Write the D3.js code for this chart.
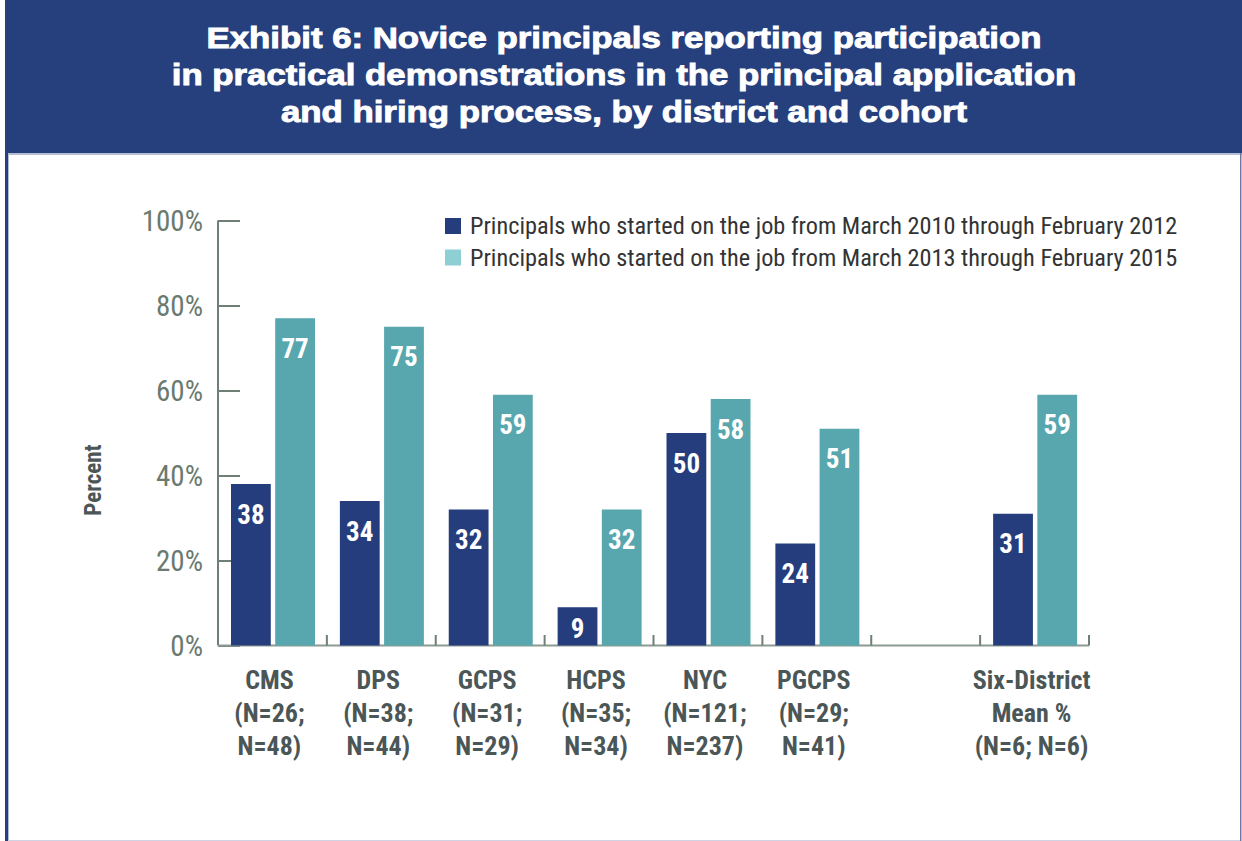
<!DOCTYPE html>
<html><head><meta charset="utf-8">
<script src="https://cdn.jsdelivr.net/npm/d3@7"></script>
<style>html,body{margin:0;padding:0;background:#fff;}svg{display:block;}</style>
</head><body>
<svg id="chart" width="1242" height="841"></svg>
<script>
const titleLines = ["Exhibit 6: Novice principals reporting participation","in practical demonstrations in the principal application","and hiring process, by district and cohort"];
const categories = ["CMS","DPS","GCPS","HCPS","NYC","PGCPS","blank","Six-District"];
const categoryLabels = [["CMS","(N=26;","N=48)"],["DPS","(N=38;","N=44)"],["GCPS","(N=31;","N=29)"],["HCPS","(N=35;","N=34)"],["NYC","(N=121;","N=237)"],["PGCPS","(N=29;","N=41)"],[],["Six-District","Mean %","(N=6; N=6)"]];
const seriesNames = ["Principals who started on the job from March 2010 through February 2012","Principals who started on the job from March 2013 through February 2015"];
const cohort2010 = [38,34,32,9,50,24,null,31];
const cohort2013 = [77,75,59,32,58,51,null,59];
const yTicks = [0,20,40,60,80,100];

const navy="#253d7c", teal="#58a7ae", tealLegend="#8ecfd3", axisCol="#6e8075", labelCol="#4b5657";
const narrow = "'Liberation Sans Narrow','Arial Narrow','Roboto Condensed',sans-serif";
const svg = d3.select("#chart");

// frame
svg.append("rect").attr("x",5).attr("y",0).attr("width",1237).attr("height",153).attr("fill","#263f7d");
svg.append("rect").attr("x",5).attr("y",153).attr("width",1237).attr("height",2).attr("fill","#b5bdd3");
svg.append("rect").attr("x",5).attr("y",153).attr("width",3).attr("height",688).attr("fill","#263f7d");
svg.append("rect").attr("x",8).attr("y",155).attr("width",1).attr("height",686).attr("fill","#b5bdd3");
svg.append("rect").attr("x",1240).attr("y",153).attr("width",1.5).attr("height",688).attr("fill","#6d78a3");
svg.append("rect").attr("x",8).attr("y",840).attr("width",1232).attr("height",1).attr("fill","#cfd3e3");

// title
svg.append("g").attr("transform","translate(624,0) scale(1.2,1)")
  .selectAll("text").data(titleLines).join("text")
  .attr("x",0).attr("y",(d,i)=>48+i*37)
  .attr("text-anchor","middle").attr("fill","#fff")
  .attr("stroke","#fff").attr("stroke-width",0.9)
  .attr("font-family","'Liberation Sans',Arial,sans-serif").attr("font-weight","bold")
  .attr("font-size",29).text(d=>d);

// scales
const y = d3.scaleLinear().domain([0,100]).range([645.5,220.5]);
const x = d3.scaleBand().domain(categories).range([218,1089]).paddingInner(0).paddingOuter(0);
const xs = d3.scaleBand().domain([0,1]).range([13,97]).paddingInner(0.1);

// y axis
const yAxis = d3.axisRight(y).tickValues(yTicks).tickSize(22).tickFormat(d=>d+"%");
const gy = svg.append("g").attr("transform","translate(218,0)").call(yAxis);
gy.select(".domain").attr("stroke",axisCol).attr("stroke-width",2).attr("d","M0,220.5V645.5");
gy.selectAll(".tick line").attr("stroke",axisCol).attr("stroke-width",2);
gy.selectAll(".tick text").attr("x",-15).attr("text-anchor","end").attr("dy","0.35em")
  .attr("fill","#6a7a6f").attr("font-family",narrow).attr("font-size",29).attr("font-weight","normal");

// x axis baseline & ticks
const gx = svg.append("g");
gx.append("line").attr("x1",218).attr("x2",1089).attr("y1",645.5).attr("y2",645.5).attr("stroke","#8d9a92").attr("stroke-width",2);
const bounds = categories.slice(1).map(c=>x(c)).concat([1089]);
gx.selectAll("line.t").data(bounds).join("line").attr("class","t")
  .attr("x1",d=>d).attr("x2",d=>d).attr("y1",645.5).attr("y2",635).attr("stroke",axisCol).attr("stroke-width",2);

// bars
const rows = categories.map((c,i)=>({c, vals:[cohort2010[i],cohort2013[i]]}));
const colors=[navy,teal];
const gb = svg.append("g");
rows.forEach(r=>{
  r.vals.forEach((v,j)=>{
    if(v==null) return;
    const bx = x(r.c)+xs(j), bw = xs.bandwidth();
    gb.append("rect").attr("x",bx).attr("y",y(v)).attr("width",bw).attr("height",y(0)-y(v)).attr("fill",colors[j]);
    const cy = Math.min(y(v)+30, (y(v)+y(0))/2+2);
    gb.append("text").attr("x",bx+bw/2).attr("y",cy).attr("dy","0.36em").attr("text-anchor","middle")
      .attr("fill","#fff").attr("font-family",narrow).attr("font-weight","bold").attr("font-size",27).text(v);
  });
});

// category labels
const gl = svg.append("g");
categories.forEach((c,i)=>{
  categoryLabels[i].forEach((t,k)=>{
    gl.append("text").attr("x",x(c)+x.bandwidth()/2-3).attr("y",689+k*33).attr("text-anchor","middle")
      .attr("fill",labelCol).attr("font-family",narrow).attr("font-weight","bold").attr("font-size",26).text(t);
  });
});

// y label
svg.append("text").attr("transform","translate(101,480) rotate(-90)").attr("text-anchor","middle")
  .attr("fill",labelCol).attr("font-family",narrow).attr("font-weight","bold").attr("font-size",23).text("Percent");

// legend
const lg = svg.append("g");
[navy,tealLegend].forEach((col,i)=>{
  lg.append("rect").attr("x",445).attr("y",218+i*31.5).attr("width",16).attr("height",16).attr("fill",col);
  lg.append("text").attr("x",470).attr("y",234+i*31.5).attr("fill","#333").attr("font-family",narrow)
    .attr("font-size",24.3).text(seriesNames[i]);
});
</script>
</body></html>
